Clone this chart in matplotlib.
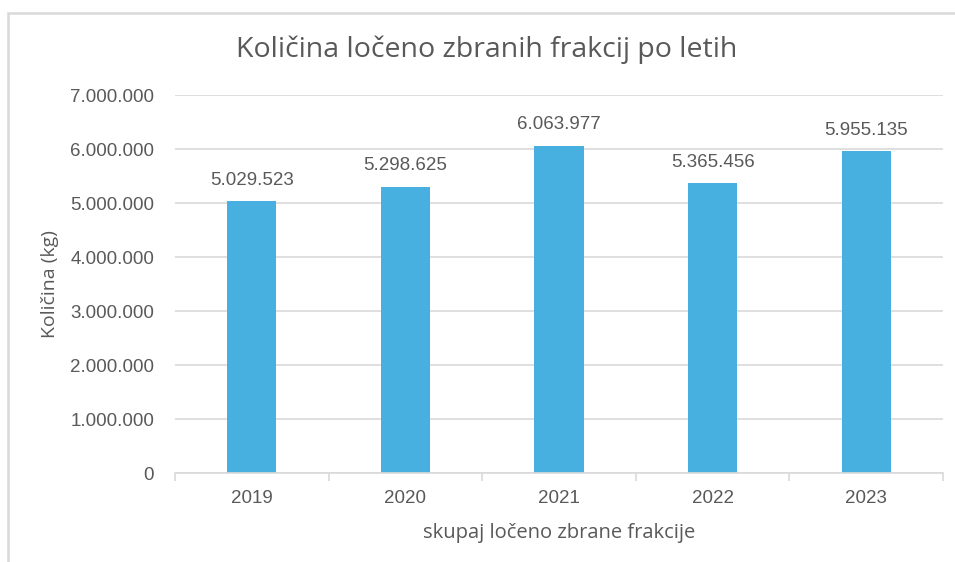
import matplotlib
matplotlib.use("Agg")
import matplotlib.pyplot as plt
from matplotlib.patches import Rectangle
from matplotlib.ticker import FuncFormatter

# podatki
years = ["2019", "2020", "2021", "2022", "2023"]
amounts = [5029523, 5298625, 6063977, 5365456, 5955135]
y_ticks = [0, 1000000, 2000000, 3000000, 4000000, 5000000, 6000000, 7000000]

bar_color = "#47B0E0"
text_color = "#595959"
grid_color = "#D9D9D9"


def dots(v):
    # slovenski zapis tisočic s piko
    return f"{int(v):,}".replace(",", ".")


plt.rcParams["font.family"] = ["Liberation Sans", "DejaVu Sans"]

fig = plt.figure(figsize=(9.55, 5.62), dpi=100)
ax = fig.add_axes([175 / 955, 1 - 473 / 562, 768 / 955, 378 / 562])

x = range(len(years))
ax.bar(x, amounts, width=0.32, color=bar_color, zorder=3)

for xi, v in zip(x, amounts):
    ax.annotate(dots(v), (xi, v), xytext=(0, 9), textcoords="offset points",
                ha="center", va="bottom", fontsize=13.5, color=text_color)

ax.set_xlim(-0.5, len(years) - 0.5)
ax.set_ylim(0, 7000000)
ax.set_yticks(y_ticks)
ax.yaxis.set_major_formatter(FuncFormatter(lambda v, p: dots(v)))
ax.set_xticks(list(x))
ax.set_xticklabels(years)
ax.set_xticks([i - 0.5 for i in range(len(years) + 1)], minor=True)

ax.grid(axis="y", color=grid_color, linewidth=1.2, zorder=0)
for s in ["top", "right", "left"]:
    ax.spines[s].set_visible(False)
ax.spines["bottom"].set_color(grid_color)
ax.spines["bottom"].set_linewidth(1.2)
ax.spines["bottom"].set_zorder(4)

ax.tick_params(axis="y", length=0, pad=15, labelsize=13.5, labelcolor=text_color)
ax.tick_params(axis="x", which="major", length=0, pad=12, labelsize=13.5, labelcolor=text_color)
ax.tick_params(axis="x", which="minor", length=6, width=1.2, color=grid_color)

fig.text(487 / 955, 1 - 50 / 562, "Količina ločeno zbranih frakcij po letih",
         ha="center", va="center", fontsize=20.5, color=text_color, family=["Open Sans", "DejaVu Sans"])
fig.text(50 / 955, 1 - 284 / 562, "Količina (kg)", rotation=90,
         ha="center", va="center", fontsize=14, color=text_color, family=["Open Sans", "DejaVu Sans"])
fig.text(559 / 955, 1 - 533 / 562, "skupaj ločeno zbrane frakcije",
         ha="center", va="center", fontsize=14.5, color=text_color, family=["Open Sans", "DejaVu Sans"])

# okvir grafikona
fig.patches.append(Rectangle((8 / 955, -0.1), 1.2, 1.1 - 13 / 562, transform=fig.transFigure,
                             fill=False, edgecolor=grid_color, linewidth=1.8))

fig.savefig("out.png", dpi=100, facecolor="white")
